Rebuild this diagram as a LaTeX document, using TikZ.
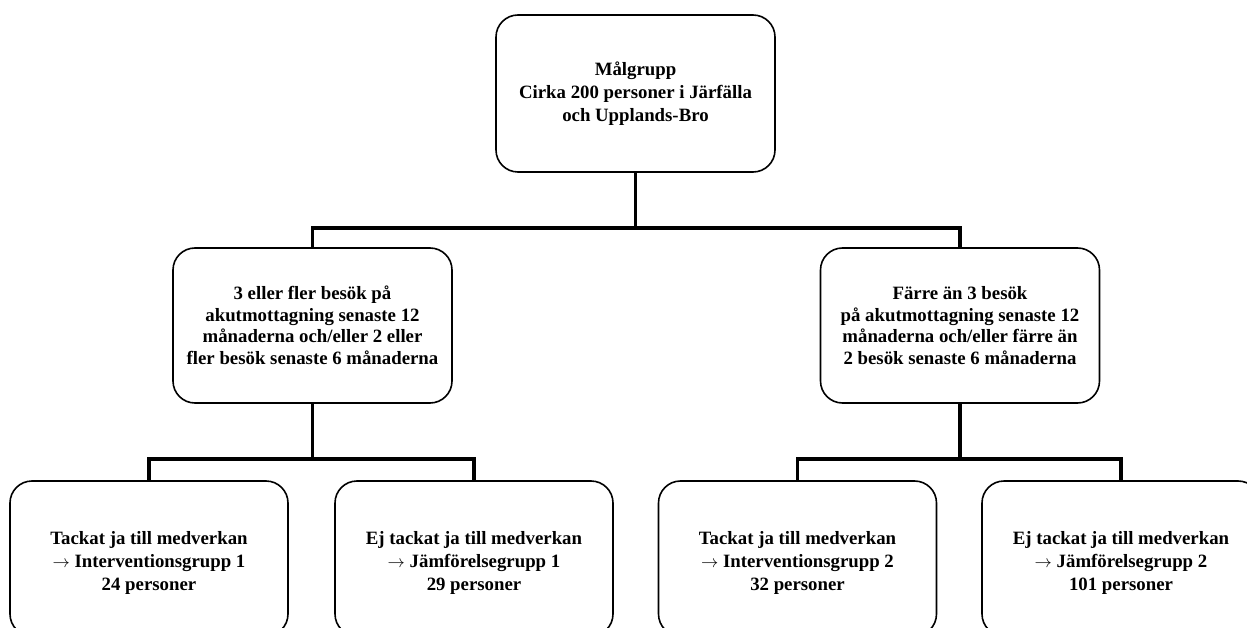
\documentclass[tikz,border=0pt]{standalone}
\usepackage{fontspec}
\setmainfont{Liberation Serif}
\newcommand{\lowstrut}{\rule{0pt}{21pt}}
\begin{document}
\begin{tikzpicture}[x=1pt,y=-1pt,
  box/.style={draw=black, line width=1.6pt, rounded corners=22pt, fill=white,
    inner sep=0pt, align=center, text=black},
  topbox/.style={box, minimum width=279pt, minimum height=157pt,
    font=\bfseries\fontsize{18.8}{23}\selectfont},
  midbox/.style={box, minimum width=279pt, minimum height=155pt,
    font=\bfseries\fontsize{18.8}{21.5}\selectfont},
  lowbox/.style={box, minimum width=278pt, minimum height=155pt,
    font=\bfseries\fontsize{18.8}{23}\selectfont},
  conn/.style={draw=black, line width=3.6pt, line join=miter}]
\clip (0,0) rectangle (1247,628);
\fill[white] (0,0) rectangle (1247,628);

\node[topbox] (top) at (635.5,93.5) {Målgrupp\\Cirka 200 personer i Järfälla\\och Upplands-Bro};

\node[midbox] (m1) at (312.5,325.5) {3 eller fler besök på\\akutmottagning senaste 12\\månaderna och/eller 2 eller\\fler besök senaste 6 månaderna};
\node[midbox] (m2) at (960,325.5) {Färre än 3 besök\\på akutmottagning senaste 12\\månaderna och/eller färre än\\2 besök senaste 6 månaderna};

\node[lowbox] (b1) at (149,558.5) {\lowstrut Tackat ja till medverkan\\$\rightarrow$ Interventionsgrupp 1\\24 personer};
\node[lowbox] (b2) at (474,558.5) {\lowstrut Ej tackat ja till medverkan\\$\rightarrow$ Jämförelsegrupp 1\\29 personer};
\node[lowbox] (b3) at (797.5,558.5) {\lowstrut Tackat ja till medverkan\\$\rightarrow$ Interventionsgrupp 2\\32 personer};
\node[lowbox] (b4) at (1121,558.5) {\lowstrut Ej tackat ja till medverkan\\$\rightarrow$ Jämförelsegrupp 2\\101 personer};

\coordinate (j1) at (635.5,228);
\coordinate (j2) at (312.5,459);
\coordinate (j3) at (960,459);

\draw[conn] (top.south) -- (j1);
\draw[conn] (m1.north) |- (j1) -| (m2.north);
\draw[conn] (m1.south) -- (j2);
\draw[conn] (b1.north) |- (j2) -| (b2.north);
\draw[conn] (m2.south) -- (j3);
\draw[conn] (b3.north) |- (j3) -| (b4.north);
\end{tikzpicture}
\end{document}
